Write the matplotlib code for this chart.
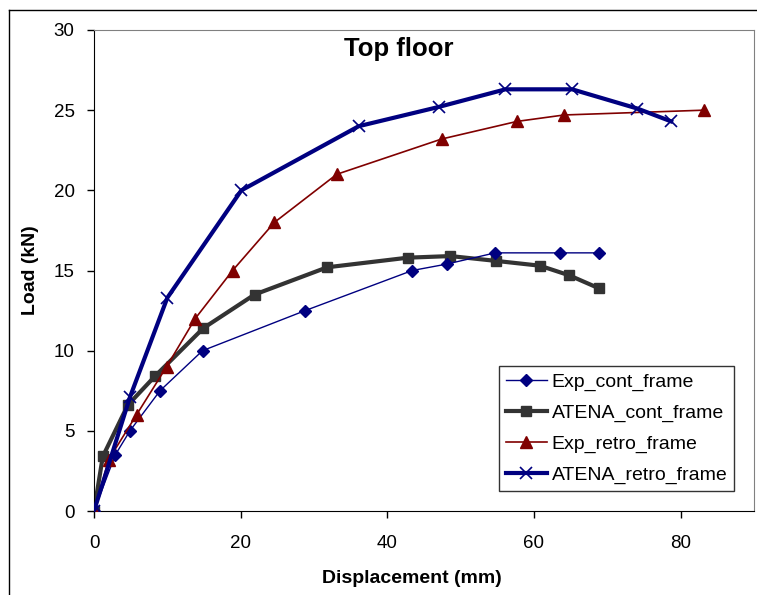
import matplotlib.pyplot as plt
from matplotlib.lines import Line2D

plt.rcParams["font.family"] = ["Liberation Sans", "DejaVu Sans"]

# Exp_cont_frame
exp_cont_x = [0, 2.9, 4.9, 9.0, 14.8, 28.8, 43.4, 48.1, 54.7, 63.5, 68.8]
exp_cont_y = [0, 3.5, 5.0, 7.5, 10.0, 12.5, 15.0, 15.4, 16.1, 16.1, 16.1]

# ATENA_cont_frame
atena_cont_x = [0, 1.2, 4.6, 8.3, 14.9, 21.9, 31.8, 42.8, 48.6, 54.8, 60.8, 64.8, 68.8]
atena_cont_y = [0, 3.4, 6.6, 8.4, 11.4, 13.5, 15.2, 15.8, 15.9, 15.6, 15.3, 14.7, 13.9]

# Exp_retro_frame
exp_retro_x = [0, 2.0, 5.8, 9.9, 13.8, 18.9, 24.6, 33.1, 47.4, 57.7, 64.1, 83.2]
exp_retro_y = [0, 3.2, 6.0, 9.0, 12.0, 15.0, 18.0, 21.0, 23.2, 24.3, 24.7, 25.0]

# ATENA_retro_frame
atena_retro_x = [0, 4.9, 10.0, 20.1, 36.1, 47.0, 56.1, 65.2, 74.1, 78.7]
atena_retro_y = [0, 7.1, 13.3, 20.0, 24.0, 25.2, 26.3, 26.3, 25.1, 24.3]

NAVY = "#000080"
GREY = "#333333"
DARK_RED = "#800000"

fig = plt.figure(figsize=(7.57, 5.95), dpi=100)
ax = fig.add_axes([94 / 757, 1 - 511 / 595, 660 / 757, 481 / 595])

ax.plot(exp_cont_x, exp_cont_y, color=NAVY, lw=1.0, marker="D", ms=6,
        mfc=NAVY, mec=NAVY, label="Exp_cont_frame", zorder=3)
ax.plot(atena_cont_x, atena_cont_y, color=GREY, lw=3.0, marker="s", ms=7,
        mfc=GREY, mec=GREY, label="ATENA_cont_frame", zorder=2)
ax.plot(exp_retro_x, exp_retro_y, color=DARK_RED, lw=1.2, marker="^", ms=8,
        mfc=DARK_RED, mec=DARK_RED, label="Exp_retro_frame", zorder=3)
ax.plot(atena_retro_x, atena_retro_y, color=NAVY, lw=3.0, marker="x", ms=9,
        mew=1.2, mec=NAVY, label="ATENA_retro_frame", zorder=4)

ax.set_xlim(0, 90)
ax.set_ylim(0, 30)
ax.set_xticks([0, 20, 40, 60, 80])
ax.set_yticks([0, 5, 10, 15, 20, 25, 30])
ax.tick_params(direction="out", length=5, width=1, labelsize=13.5)
ax.tick_params(axis="x", pad=12)
ax.tick_params(axis="y", pad=9)

for side in ["top", "right"]:
    ax.spines[side].set_color("#808080")
for side in ["left", "bottom"]:
    ax.spines[side].set_color("black")

ax.set_xlabel("Displacement (mm)", fontsize=14, fontweight="bold")
ax.xaxis.set_label_coords(0.482, -0.122)
ax.set_ylabel("Load (kN)", fontsize=14, fontweight="bold")
ax.yaxis.set_label_coords(-0.083, 0.5)
ax.text(41.5, 28.4, "Top floor", ha="center", va="baseline",
        fontsize=18.5, fontweight="bold")

leg = ax.legend(loc="lower right", bbox_to_anchor=(0.970, 0.042), fontsize=14,
                frameon=True, fancybox=False, edgecolor="black",
                handlelength=2.1, labelspacing=0.68, borderpad=0.35,
                handletextpad=0.26, borderaxespad=0)
leg.get_frame().set_linewidth(1.0)

# outer chart border
fig.add_artist(Line2D([9 / 757, 9 / 757], [0, 1 - 10 / 595],
                      transform=fig.transFigure, color="black", lw=1))
fig.add_artist(Line2D([9 / 757, 1], [1 - 10 / 595, 1 - 10 / 595],
                      transform=fig.transFigure, color="black", lw=1))

fig.savefig("out.png", dpi=100)
